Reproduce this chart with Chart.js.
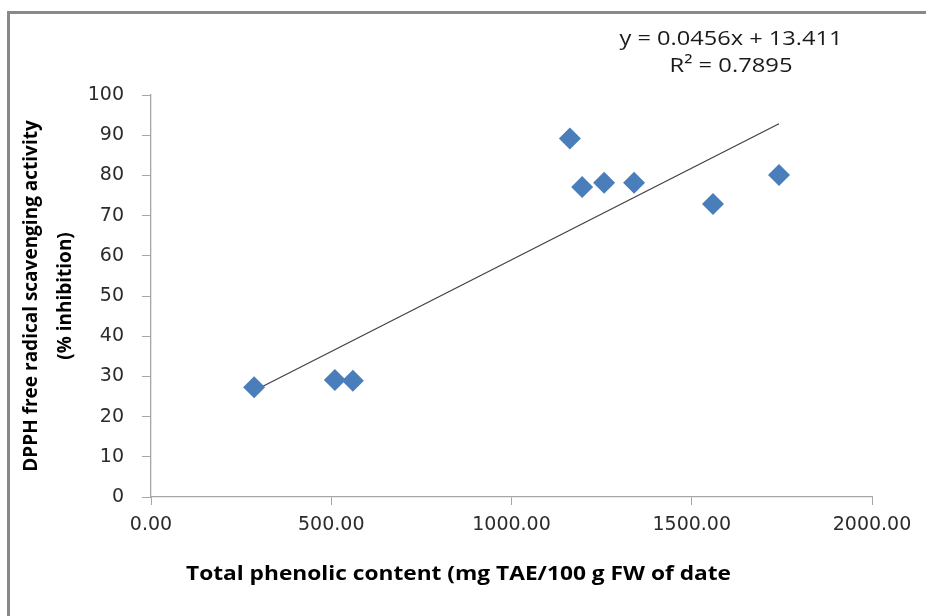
<!DOCTYPE html>
<html>
<head>
<meta charset="utf-8">
<script src="https://cdn.jsdelivr.net/npm/chart.js@4/dist/chart.umd.min.js"></script>
<style>
  html, body { margin: 0; padding: 0; background: #fff; }
  #wrap { position: relative; width: 926px; height: 616px; }
</style>
</head>
<body>
<div id="wrap"><canvas id="chart" width="926" height="616"></canvas></div>
<script>
// phenolic content (mg TAE/100 g FW) vs DPPH inhibition (%)
const phenolic = [286, 510, 560, 1162, 1196, 1257, 1340, 1559, 1742];
const inhibition = [27.3, 29.1, 28.9, 89.2, 77.1, 78.2, 78.2, 72.9, 80.1];

// Excel linear trendline, as printed on the chart
const slope = 0.0456;
const intercept = 13.411;
const equationLines = ['y = 0.0456x + 13.411', 'R\u00B2 = 0.7895'];

const xTicks = [0, 500, 1000, 1500, 2000];
const yTicks = [0, 10, 20, 30, 40, 50, 60, 70, 80, 90, 100];

const xTitle = 'Total phenolic content (mg TAE/100 g FW of date';
const yTitle = ['DPPH free radical scavenging activity', '(% inhibition)'];

const AXIS_COLOR = '#a6a6a6';
const MARKER_COLOR = '#4a7ebb';
const TICK_FONT = { family: 'DejaVu Sans', size: 19 };
const TITLE_FAMILY = 'Open Sans';

const xMin = Math.min(...phenolic);
const xMax = Math.max(...phenolic);
const trend = [
    { x: xMin, y: slope * xMin + intercept },
    { x: xMax, y: slope * xMax + intercept },
];

// the source picture is a bit stretched sideways, so text is squeezed to a target width
function fitText(ctx, text, x, y, width, align) {
    const w = ctx.measureText(text).width;
    const k = width / w;
    let left = x;
    if (align === 'center') left = x - width / 2;
    ctx.save();
    ctx.translate(left, y);
    ctx.scale(k, 1);
    ctx.textAlign = 'left';
    ctx.fillText(text, 0, 0);
    ctx.restore();
}

// frame + free text drawn straight on the canvas
const decorPlugin = {
    id: 'decor',
    beforeDraw(chart) {
        const { ctx } = chart;
        ctx.save();
        ctx.fillStyle = '#fff';
        ctx.fillRect(0, 0, chart.width, chart.height);
        ctx.strokeStyle = '#898989';
        ctx.lineWidth = 3;
        ctx.beginPath();
        ctx.moveTo(8.5, chart.height);
        ctx.lineTo(8.5, 12.5);
        ctx.lineTo(chart.width, 12.5);
        ctx.stroke();
        ctx.restore();
    },
    afterDraw(chart) {
        const { ctx } = chart;
        ctx.save();
        ctx.fillStyle = '#000';
        ctx.textBaseline = 'middle';

        ctx.font = `bold 19px "${TITLE_FAMILY}"`;
        fitText(ctx, xTitle, 186, 575, 545, 'left');

        ctx.font = `20px "${TITLE_FAMILY}"`;
        ctx.fillStyle = '#1a1a1a';
        fitText(ctx, equationLines[0], 731, 39, 223, 'center');
        fitText(ctx, equationLines[1], 731, 66, 123, 'center');
        ctx.restore();
    }
};

new Chart(document.getElementById('chart'), {
    type: 'scatter',
    data: {
        datasets: [
            {
                label: 'data',
                data: phenolic.map((x, i) => ({ x, y: inhibition[i] })),
                pointStyle: 'rectRot',
                pointRadius: 11,
                pointHoverRadius: 11,
                backgroundColor: MARKER_COLOR,
                borderColor: MARKER_COLOR,
                borderWidth: 0,
                order: 1,
            },
            {
                label: 'trend',
                type: 'line',
                data: trend,
                borderColor: '#404040',
                borderWidth: 1.2,
                pointRadius: 0,
                fill: false,
                order: 2,
            },
        ],
    },
    options: {
        responsive: false,
        animation: false,
        layout: { padding: { top: 95, right: 54, left: 0, bottom: 0 } },
        plugins: {
            legend: { display: false },
            tooltip: { enabled: false },
        },
        scales: {
            x: {
                type: 'linear',
                min: 0,
                max: 2000,
                afterBuildTicks(axis) { axis.ticks = xTicks.map(v => ({ value: v })); },
                afterFit(axis) { axis.height = 616 - 497; },
                border: { color: AXIS_COLOR, width: 1.3 },
                grid: { drawOnChartArea: false, drawTicks: true, tickLength: 8, tickColor: AXIS_COLOR },
                ticks: {
                    font: TICK_FONT,
                    color: '#2b2b2b',
                    padding: 9,
                    maxRotation: 0,
                    callback: v => v.toFixed(2),
                },
                title: { display: false },
            },
            y: {
                type: 'linear',
                min: 0,
                max: 100,
                afterBuildTicks(axis) { axis.ticks = yTicks.map(v => ({ value: v })); },
                afterFit(axis) { axis.width = 151; },
                border: { color: AXIS_COLOR, width: 1.3 },
                grid: { drawOnChartArea: false, drawTicks: true, tickLength: 9, tickColor: AXIS_COLOR },
                ticks: {
                    font: TICK_FONT,
                    color: '#2b2b2b',
                    padding: 18,
                },
                title: {
                    display: true,
                    text: yTitle,
                    color: '#000',
                    font: { family: TITLE_FAMILY, size: 19, weight: 'bold', lineHeight: 34 / 19 },
                    padding: { top: 15, bottom: 0 },
                },
            },
        },
    },
    plugins: [decorPlugin],
});
</script>
</body>
</html>
